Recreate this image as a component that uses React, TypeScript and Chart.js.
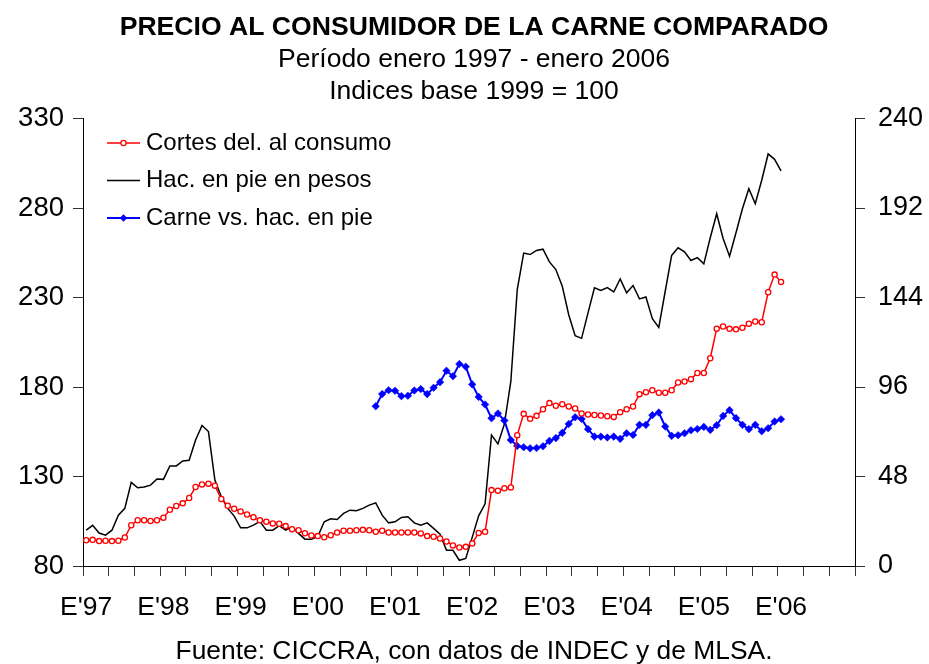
import React, { useEffect, useRef } from "react";
import { Chart, registerables } from "chart.js";

Chart.register(...registerables);

const FONT = "'Liberation Sans', Arial, Helvetica, sans-serif";

const titleText = "PRECIO AL CONSUMIDOR DE LA CARNE COMPARADO";
const subtitleLines = ["Período enero 1997 - enero 2006", "Indices base 1999 = 100"];
const sourceText = "Fuente: CICCRA, con datos de INDEC y de MLSA.";

// X axis: months from January 1997 to December 2006
const yearLabels = ["E'97", "E'98", "E'99", "E'00", "E'01", "E'02", "E'03", "E'04", "E'05", "E'06"];
const monthsOnAxis = 120;
const monthsPerTick = 4;
const monthsPerLabel = 12;

// Y axes
const leftMin = 80;
const leftMax = 330;
const leftStep = 50;
const rightMin = 0;
const rightMax = 240;
const rightStep = 48;

const seriesLabels = ["Cortes del. al consumo", "Hac. en pie en pesos", "Carne vs. hac. en pie"];

// Monthly values, Jan 1997 - Jan 2006 (left axis)
const cortes = [
  94.4, 94.6, 93.9, 94.1, 93.9, 94.1, 95.9, 102.8, 105.6, 105.6, 105.1, 105.6,
  107.0, 111.4, 113.5, 115.0, 118.0, 124.1, 125.6, 126.0, 124.9, 117.4, 113.7, 112.0,
  110.5, 108.8, 107.3, 105.6, 104.7, 103.8, 103.6, 102.3, 100.6, 100.0, 98.3, 97.0,
  96.7, 96.1, 97.2, 98.7, 99.7, 99.7, 100.0, 100.2, 100.0, 99.1, 99.7, 98.7,
  98.7, 98.7, 98.7, 98.7, 98.2, 96.7, 96.3, 95.4, 93.7, 91.5, 90.3, 90.7,
  92.6, 98.5, 99.1, 122.4, 122.1, 123.4, 123.9, 153.1, 165.0, 162.2, 163.9, 167.6,
  171.0, 169.5, 170.4, 169.1, 168.0, 165.2, 164.6, 164.4, 164.1, 163.7, 163.3, 165.9,
  167.6, 169.1, 176.0, 177.1, 178.2, 176.8, 176.8, 178.2, 182.5, 183.1, 184.4, 187.8,
  187.8, 196.1, 212.6, 213.8, 212.5, 212.2, 213.1, 215.4, 216.6, 216.2, 232.9, 242.8,
  238.7,
];

const hacienda = [
  100.0, 102.7, 98.4, 97.2, 100.0, 108.4, 112.2, 126.7, 123.7, 124.1, 125.2, 128.6,
  128.4, 135.9, 135.9, 138.7, 139.1, 150.4, 158.5, 155.1, 128.0, 118.7, 112.2, 107.9,
  101.3, 101.3, 102.8, 104.9, 100.0, 100.0, 102.5, 100.0, 101.9, 98.2, 95.0, 95.0,
  96.5, 104.7, 106.4, 106.0, 109.4, 111.2, 110.9, 112.2, 114.0, 115.3, 108.4, 104.1,
  104.7, 107.1, 107.5, 104.1, 102.8, 104.1, 101.0, 97.8, 88.8, 88.8, 83.2, 84.2,
  96.0, 108.0, 114.7, 153.2, 148.2, 159.3, 183.1, 234.4, 254.8, 254.0, 256.3, 257.0,
  249.9, 245.6, 236.3, 220.4, 208.7, 207.2, 221.4, 235.4, 233.9, 235.5, 233.1, 240.4,
  232.6, 236.7, 229.2, 230.3, 218.2, 213.3, 233.5, 253.5, 257.8, 255.5, 250.7, 252.3,
  248.8, 263.4, 276.8, 263.0, 253.1, 266.2, 279.6, 290.8, 282.4, 295.5, 310.2, 307.2,
  300.7,
];

// Monthly values, Oct 2000 - Jan 2006 (right axis)
const carneVsHacStartMonth = 45;
const carneVsHac = [
  85.7, 92.2, 94.3, 94.0, 91.1, 91.3, 94.1, 94.9, 92.2, 95.6,
  98.6, 104.7, 101.8, 108.3, 106.9, 97.4, 90.7, 86.6, 79.3, 81.8,
  78.0, 67.6, 64.4, 63.7, 63.1, 63.3, 64.2, 67.1, 68.6, 71.4,
  76.2, 79.8, 78.9, 73.4, 69.4, 69.4, 68.9, 69.4, 68.2, 71.2,
  70.3, 75.7, 75.7, 80.9, 82.3, 74.8, 69.8, 70.1, 71.2, 72.8,
  73.5, 74.6, 73.0, 75.5, 80.5, 83.6, 79.3, 75.7, 73.4, 75.7,
  72.3, 73.9, 77.5, 78.7,
];

const toPoints = (values: number[], start: number) =>
  values.map((v, k) => ({ x: start + k + 0.5, y: v }));

const insideLegend = {
  id: "insideLegend",
  afterDraw(chart: any) {
    const { ctx, chartArea } = chart;
    const x0 = chartArea.left + 24;
    const x1 = chartArea.left + 57;
    const tx = chartArea.left + 63;
    const y0 = chartArea.top + 24.5;
    const dy = 37.5;
    ctx.save();
    ctx.font = `24px ${FONT}`;
    ctx.textBaseline = "middle";
    ctx.textAlign = "left";
    chart.data.datasets.forEach((ds: any, i: number) => {
      const y = y0 + i * dy;
      ctx.strokeStyle = ds.borderColor;
      ctx.lineWidth = ds.borderWidth;
      ctx.beginPath();
      ctx.moveTo(x0, y);
      ctx.lineTo(x1, y);
      ctx.stroke();
      const cx = (x0 + x1) / 2;
      if (ds.pointStyle === "circle" && ds.pointRadius > 0) {
        ctx.beginPath();
        ctx.arc(cx, y, ds.pointRadius, 0, Math.PI * 2);
        ctx.fillStyle = ds.pointBackgroundColor;
        ctx.fill();
        ctx.lineWidth = ds.pointBorderWidth;
        ctx.strokeStyle = ds.borderColor;
        ctx.stroke();
      } else if (ds.pointStyle === "rectRot" && ds.pointRadius > 0) {
        const r = ds.pointRadius;
        ctx.beginPath();
        ctx.moveTo(cx, y - r);
        ctx.lineTo(cx + r, y);
        ctx.lineTo(cx, y + r);
        ctx.lineTo(cx - r, y);
        ctx.closePath();
        ctx.fillStyle = ds.pointBackgroundColor;
        ctx.fill();
      }
      ctx.fillStyle = "#000";
      ctx.fillText(ds.label, tx, y);
    });
    ctx.restore();
  },
};

const sourceFooter = {
  id: "sourceFooter",
  afterDraw(chart: any) {
    const { ctx } = chart;
    ctx.save();
    ctx.font = `26.4px ${FONT}`;
    ctx.fillStyle = "#000";
    ctx.textAlign = "center";
    ctx.textBaseline = "middle";
    ctx.fillText(sourceText, 474, 652);
    ctx.restore();
  },
};

export default function App() {
  const canvasRef = useRef<HTMLCanvasElement | null>(null);

  useEffect(() => {
    const canvas = canvasRef.current;
    if (!canvas) return;
    Chart.defaults.font.family = FONT;
    Chart.defaults.color = "#000";

    const chart = new Chart(canvas, {
      type: "line",
      data: {
        datasets: [
          {
            label: seriesLabels[0],
            data: toPoints(cortes, 0),
            yAxisID: "yLeft",
            borderColor: "#ff0000",
            borderWidth: 1.5,
            pointStyle: "circle",
            pointRadius: 2.6,
            pointBorderWidth: 1.3,
            pointBackgroundColor: "#ffffff",
            pointBorderColor: "#ff0000",
            tension: 0,
            order: 0,
          },
          {
            label: seriesLabels[1],
            data: toPoints(hacienda, 0),
            yAxisID: "yLeft",
            borderColor: "#000000",
            borderWidth: 1.5,
            pointStyle: "circle",
            pointRadius: 0,
            tension: 0,
            order: 2,
          },
          {
            label: seriesLabels[2],
            data: toPoints(carneVsHac, carneVsHacStartMonth),
            yAxisID: "yRight",
            borderColor: "#0000ff",
            borderWidth: 2,
            pointStyle: "rectRot",
            pointRadius: 3.8,
            pointBorderWidth: 0.5,
            pointBackgroundColor: "#0000ff",
            pointBorderColor: "#0000ff",
            tension: 0,
            order: 1,
          },
        ],
      } as any,
      options: {
        animation: false,
        responsive: false,
        maintainAspectRatio: false,
        devicePixelRatio: 1,
        layout: { padding: { left: 19, right: 0, top: 0, bottom: 0 } },
        plugins: {
          legend: { display: false },
          tooltip: { enabled: false },
          title: {
            display: true,
            text: titleText,
            color: "#000",
            font: { family: FONT, size: 26.6, weight: "bold", lineHeight: 1.2 },
            padding: { top: 12, bottom: 0 },
          },
          subtitle: {
            display: true,
            text: subtitleLines,
            color: "#000",
            font: { family: FONT, size: 26.5, weight: "normal", lineHeight: 1.2 },
            padding: { top: 0, bottom: 11 },
          },
        },
        scales: {
          x: {
            type: "linear",
            min: 0,
            max: monthsOnAxis,
            afterBuildTicks: (scale: any) => {
              const ticks = [];
              for (let m = 0; m <= monthsOnAxis; m += monthsPerTick) ticks.push({ value: m });
              scale.ticks = ticks;
            },
            afterFit: (scale: any) => {
              scale.height = 98;
            },
            ticks: {
              autoSkip: false,
              maxRotation: 0,
              minRotation: 0,
              padding: 16,
              labelOffset: 3.2,
              font: { family: FONT, size: 26.5 },
              color: "#000",
              callback: (value: any) => {
                const v = Number(value);
                if (v % monthsPerLabel !== 0) return "";
                const idx = v / monthsPerLabel;
                return idx < yearLabels.length ? yearLabels[idx] : "";
              },
            },
            grid: {
              display: true,
              drawOnChartArea: false,
              drawTicks: true,
              tickLength: 10,
              color: "#333",
              lineWidth: 1,
            },
            border: { display: true, color: "#000", width: 1 },
          },
          yLeft: {
            type: "linear",
            position: "left",
            min: leftMin,
            max: leftMax,
            afterFit: (scale: any) => {
              scale.width = 64;
            },
            ticks: {
              stepSize: leftStep,
              padding: 9,
              font: { family: FONT, size: 27.5 },
              color: "#000",
            },
            grid: {
              display: true,
              drawOnChartArea: false,
              drawTicks: true,
              tickLength: 10,
              color: "#333",
            },
            border: { display: true, color: "#000", width: 1 },
          },
          yRight: {
            type: "linear",
            position: "right",
            min: rightMin,
            max: rightMax,
            afterFit: (scale: any) => {
              scale.width = 74;
            },
            ticks: {
              stepSize: rightStep,
              padding: 13,
              font: { family: FONT, size: 27 },
              color: "#000",
            },
            grid: {
              display: true,
              drawOnChartArea: false,
              drawTicks: true,
              tickLength: 10,
              color: "#333",
            },
            border: { display: true, color: "#000", width: 1 },
          },
        },
      } as any,
      plugins: [insideLegend, sourceFooter],
    });

    return () => {
      chart.destroy();
    };
  }, []);

  return (
    <div style={{ position: "fixed", left: 0, top: 0, width: 929, height: 664, background: "#fff" }}>
      <canvas ref={canvasRef} width={929} height={664} style={{ width: 929, height: 664, display: "block" }} />
    </div>
  );
}
